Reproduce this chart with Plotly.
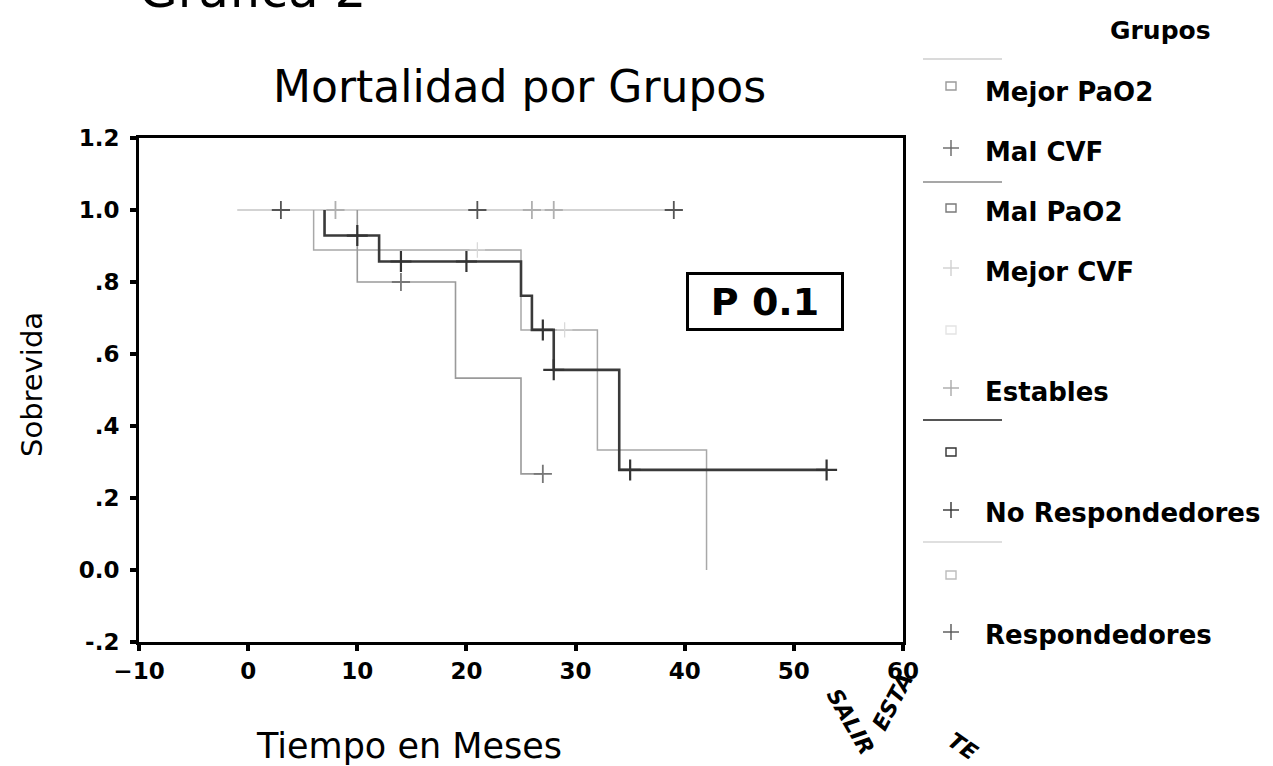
import plotly.graph_objects as go

# ---- Kaplan-Meier step curves (tiempo en meses, sobrevida acumulada) ----
# Grupo estable: todos censurados, permanece en 1.0
estables_t = [-1, 39]
estables_s = [1.0, 1.0]
estables_cens_t = [3, 8, 21, 26, 28, 39]
estables_cens_s = [1.0, 1.0, 1.0, 1.0, 1.0, 1.0]
estables_cens_tono = ["#555555", "#b0b0b0", "#555555", "#b0b0b0", "#b0b0b0", "#555555"]

mal_pao2_t = [0, 6, 25, 32, 42]
mal_pao2_s = [1.0, 0.889, 0.667, 0.333, 0.0]
mal_pao2_cens_t = [21, 29]
mal_pao2_cens_s = [0.889, 0.667]

respond_t = [0, 10, 19, 25, 27]
respond_s = [1.0, 0.8, 0.533, 0.267, 0.267]
respond_cens_t = [14, 27]
respond_cens_s = [0.8, 0.267]

no_resp_t = [0, 7, 12, 25, 26, 28, 34, 53]
no_resp_s = [1.0, 0.929, 0.857, 0.762, 0.667, 0.556, 0.278, 0.278]
no_resp_cens_t = [10, 14, 20, 27, 28, 35, 53]
no_resp_cens_s = [0.929, 0.857, 0.857, 0.667, 0.556, 0.278, 0.278]

x_ticks = [-10, 0, 10, 20, 30, 40, 50, 60]
y_ticks = [-0.2, 0.0, 0.2, 0.4, 0.6, 0.8, 1.0, 1.2]
y_tick_text = ["-.2", "0.0", ".2", ".4", ".6", ".8", "1.0", "1.2"]

legend_labels = ["Mejor PaO2", "Mal CVF", "Mal PaO2", "Mejor CVF", "Estables",
                 "No Respondedores", "Respondedores"]

W, H = 1273, 766
L, R, T, B = 139, 903, 138, 642   # plot area in pixels


def px(x):
    return (x - L) / (R - L)


def py(y):
    return (B - y) / (B - T)


FONT = "DejaVu Sans"
fig = go.Figure()


def step(t, s, color, width):
    # the shared 1.0 stretch before the first event is left to the flat line
    tt = [t[1]] + list(t[1:])
    ss = [s[0]] + list(s[1:])
    fig.add_trace(go.Scatter(x=tt, y=ss, mode="lines", line_shape="hv",
                             line=dict(color=color, width=width),
                             hoverinfo="skip", showlegend=False))


def marks(t, s, color, size=13, width=1.8):
    fig.add_trace(go.Scatter(x=t, y=s, mode="markers",
                             marker=dict(symbol="cross-thin", size=size,
                                         line=dict(color=color, width=width)),
                             hoverinfo="skip", showlegend=False))


fig.add_trace(go.Scatter(x=estables_t, y=estables_s, mode="lines",
                         line=dict(color="#c4c4c4", width=1.3),
                         hoverinfo="skip", showlegend=False))
step(mal_pao2_t, mal_pao2_s, "#a8a8a8", 1.5)
step(respond_t, respond_s, "#9a9a9a", 1.6)
step(no_resp_t, no_resp_s, "#3a3a3a", 2.6)
marks(estables_cens_t, estables_cens_s, estables_cens_tono)
marks(mal_pao2_cens_t, mal_pao2_cens_s, "#d8d8d8", size=11, width=1.2)
marks(respond_cens_t, respond_cens_s, "#777777")
marks(no_resp_cens_t, no_resp_cens_s, "#333333", size=15, width=2.2)

axis_common = dict(showgrid=False, zeroline=False, showline=True, mirror=True,
                   linecolor="black", linewidth=3, ticks="outside",
                   ticklen=6, tickwidth=4, tickcolor="black",
                   tickfont=dict(family=FONT, size=23, color="black", weight="bold"))

fig.update_xaxes(range=[-10, 60], tickvals=x_ticks, **axis_common)
fig.update_yaxes(range=[-0.2, 1.2], tickvals=y_ticks, ticktext=y_tick_text,
                 ticklabelstandoff=6, **axis_common)

ann = []
# titles
ann.append(dict(text="Grafica 2", x=px(252), y=py(-10), font=dict(size=50)))
ann.append(dict(text="Mortalidad por Grupos", x=px(519), y=py(87), font=dict(size=44)))
ann.append(dict(text="Tiempo en Meses", x=px(409), y=py(746), font=dict(size=35)))
ann.append(dict(text="Sobrevida", x=px(32), y=py(385), textangle=-90,
                font=dict(size=29)))
# p value box
ann.append(dict(text="<b>P 0.1</b>", x=47.4, y=0.745, xref="x", yref="y",
                font=dict(size=38), bordercolor="black", borderwidth=3,
                bgcolor="white", width=152, height=53, borderpad=0))

# legend
ann.append(dict(text="<b>Grupos</b>", x=px(1160), y=py(30), font=dict(size=25)))
label_rows = [92, 152, 212, 272, 392, 513, 635]
for lab, yy in zip(legend_labels, label_rows):
    ann.append(dict(text="<b>" + lab + "</b>", x=px(983), y=py(yy), xanchor="left",
                    font=dict(size=26)))

# stamp
ann.append(dict(text="<b><i>ESTA</i></b>", x=px(892), y=py(702), textangle=-62,
                font=dict(size=22)))
ann.append(dict(text="<b><i>SALIR</i></b>", x=px(850), y=py(722), textangle=60,
                font=dict(size=22)))
ann.append(dict(text="<b><i>TE</i></b>", x=px(963), y=py(746), textangle=35,
                font=dict(size=22)))

for a in ann:
    a.setdefault("xref", "paper")
    a.setdefault("yref", "paper")
    a.setdefault("xanchor", "center")
    a.setdefault("yanchor", "middle")
    a["showarrow"] = False
    f = a["font"]
    f.setdefault("family", FONT)
    f.setdefault("color", "black")
fig.update_layout(annotations=ann)

shapes = []
# separator lines in legend
for yy, col, wd in [(59, "#b5b5b5", 1.2), (182, "#8a8a8a", 1.4),
                    (420, "#555555", 2.0), (542, "#c0c0c0", 1.2)]:
    shapes.append(dict(type="line", x0=px(923), x1=px(1002), y0=py(yy), y1=py(yy),
                       line=dict(color=col, width=wd)))
# square symbols
for yy, col in [(86, "#9a9a9a"), (208, "#7a7a7a"), (330, "#e4e4e4"),
                (452, "#333333"), (575, "#bdbdbd")]:
    shapes.append(dict(type="rect", x0=px(946), x1=px(956), y0=py(yy - 4),
                       y1=py(yy + 4), line=dict(color=col, width=1.4)))
# plus symbols
for yy, col in [(148, "#666666"), (268, "#d0d0d0"), (388, "#aaaaaa"),
                (510, "#333333"), (632, "#555555")]:
    shapes.append(dict(type="line", x0=px(943), x1=px(959), y0=py(yy), y1=py(yy),
                       line=dict(color=col, width=1.4)))
    shapes.append(dict(type="line", x0=px(951), x1=px(951), y0=py(yy - 8),
                       y1=py(yy + 8), line=dict(color=col, width=1.4)))
for s in shapes:
    s["xref"] = "paper"
    s["yref"] = "paper"
fig.update_layout(shapes=shapes)

fig.update_layout(width=W, height=H, margin=dict(l=L, r=W - R, t=T, b=H - B),
                  paper_bgcolor="white", plot_bgcolor="white",
                  font=dict(family=FONT, color="black"))

fig.write_html("out.html")
